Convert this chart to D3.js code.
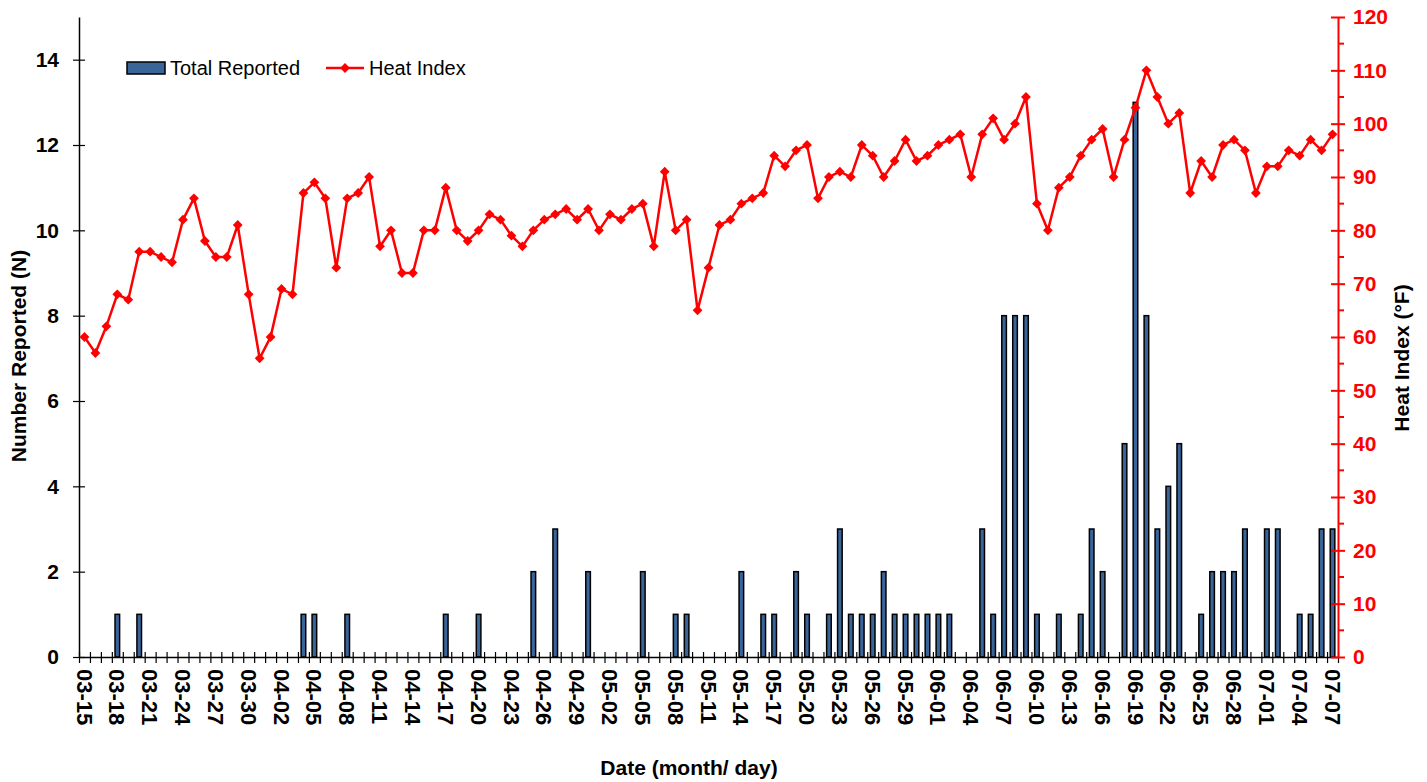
<html>
<head>
<meta charset="utf-8">
<title>Heat index vs reported cases</title>
<style>
  body { margin: 0; background: #fff; }
  text { font-family: "Liberation Sans", Arial, sans-serif; }
</style>
</head>
<body>
<script src="https://cdn.jsdelivr.net/npm/d3@7/dist/d3.min.js"></script>
<script>

// categories: every day from 03-15 to 07-07
var dates = d3.timeDay.range(new Date(2012, 2, 15), new Date(2012, 6, 8))
              .map(d3.timeFormat("%m-%d"));

// tick labels (every 3rd day)
var tickLabels = ["03-15","03-18","03-21","03-24","03-27","03-30","04-02","04-05","04-08","04-11",
                  "04-14","04-17","04-20","04-23","04-26","04-29","05-02","05-05","05-08","05-11",
                  "05-14","05-17","05-20","05-23","05-26","05-29","06-01","06-04","06-07","06-10",
                  "06-13","06-16","06-19","06-22","06-25","06-28","07-01","07-04","07-07"];

// Total Reported (N), one per day
var reported = [0,0,0,1,0,1,0,0,0,0,
                0,0,0,0,0,0,0,0,0,0,
                1,1,0,0,1,0,0,0,0,0,
                0,0,0,1,0,0,1,0,0,0,
                0,2,0,3,0,0,2,0,0,0,
                0,2,0,0,1,1,0,0,0,0,
                2,0,1,1,0,2,1,0,1,3,
                1,1,1,2,1,1,1,1,1,1,
                0,0,3,1,8,8,8,1,0,1,
                0,1,3,2,0,5,13,8,3,4,
                5,0,1,2,2,2,3,0,3,3,
                0,1,1,3,3];

// Heat Index (°F), one per day
var heatIndex = [60,57,62,68,67,76,76,75,74,82,
                 86,78,75,75,81,68,56,60,69,68,
                 87,89,86,73,86,87,90,77,80,72,
                 72,80,80,88,80,78,80,83,82,79,
                 77,80,82,83,84,82,84,80,83,82,
                 84,85,77,91,80,82,65,73,81,82,
                 85,86,87,94,92,95,96,86,90,91,
                 90,96,94,90,93,97,93,94,96,97,
                 98,90,98,101,97,100,105,85,80,88,
                 90,94,97,99,90,97,103,110,105,100,
                 102,87,93,90,96,97,95,87,92,92,
                 95,94,97,95,98];

var leftTicks  = [0,2,4,6,8,10,12,14];
var rightTicks = d3.range(0, 121, 10);

var width  = 1427;
var height = 782;
var plot = { left: 79, right: 1338, top: 17, bottom: 657 };
var font = "'Liberation Sans', Arial, sans-serif";

var svg = d3.select("body")
            .append("svg")
            .attr("width", width)
            .attr("height", height);

// scales
var x = d3.scaleBand()
          .domain(dates)
          .range([plot.left, plot.right])
          .padding(0);
var xEdge = d3.scaleLinear()        // for the boundary ticks between days
          .domain([0, dates.length])
          .range([plot.left, plot.right]);
var yLeft = d3.scaleLinear()
          .domain([0, 15])
          .range([plot.bottom, plot.top]);
var yRight = d3.scaleLinear()
          .domain([0, 120])
          .range([plot.bottom, plot.top]);

var barW = x.bandwidth() * 0.42;
var barColor = "#3A659A";

// bars
var barData = dates.map(function(d, i){ return { date: d, v: reported[i] }; })
                   .filter(function(d){ return d.v > 0; });

svg.append("g")
   .selectAll("rect")
   .data(barData)
   .enter()
   .append("rect")
   .attr("x", function(d){ return x(d.date) + (x.bandwidth() - barW) / 2; })
   .attr("y", function(d){ return yLeft(d.v); })
   .attr("width", barW)
   .attr("height", function(d){ return yLeft(0) - yLeft(d.v); })
   .attr("fill", barColor)
   .attr("stroke", "#000")
   .attr("stroke-width", 1.5);

// x axis: ticks between days
var gx = svg.append("g")
          .attr("transform", "translate(0," + plot.bottom + ")")
          .call(d3.axisBottom(xEdge)
                  .tickValues(d3.range(0, dates.length + 1))
                  .tickSize(6)
                  .tickSizeOuter(0)
                  .tickFormat(""));
gx.selectAll(".tick line").attr("y1", -5).attr("stroke", "#000").attr("stroke-width", 1.2);
gx.select(".domain").attr("stroke", "#000").attr("stroke-width", 1.5);

// x axis labels, rotated
var gxl = svg.append("g")
          .attr("transform", "translate(0," + plot.bottom + ")")
          .call(d3.axisBottom(x).tickValues(tickLabels).tickSize(0));
gxl.select(".domain").remove();
gxl.selectAll("text")
   .attr("transform", "rotate(90)")
   .attr("x", 12)
   .attr("y", 0)
   .attr("dy", "0.36em")
   .attr("text-anchor", "start")
   .attr("font-size", "22px")
   .attr("font-weight", "bold")
   .attr("font-family", font)
   .attr("fill", "#000");

// left axis
var gy = svg.append("g")
          .attr("transform", "translate(" + plot.left + ",0)")
          .call(d3.axisLeft(yLeft).tickValues(leftTicks).tickSize(6).tickSizeOuter(0).tickPadding(14));
gy.select(".domain").attr("stroke", "#000").attr("stroke-width", 1.5);
gy.selectAll(".tick line").attr("x1", -6).attr("x2", 6).attr("stroke", "#000").attr("stroke-width", 1.2);
gy.selectAll("text")
  .attr("font-size", "21px")
  .attr("font-weight", "bold")
  .attr("font-family", font)
  .attr("fill", "#000");

// right axis (red)
var gr = svg.append("g")
          .attr("transform", "translate(" + plot.right + ",0)")
          .call(d3.axisRight(yRight).tickValues(rightTicks).tickSize(7).tickSizeOuter(0).tickPadding(8));
gr.select(".domain").attr("stroke", "#FF0000").attr("stroke-width", 2);
gr.selectAll(".tick line").attr("x1", -7).attr("stroke", "#FF0000").attr("stroke-width", 2);
gr.selectAll("text")
  .attr("font-size", "21px")
  .attr("font-weight", "bold")
  .attr("font-family", font)
  .attr("fill", "#FF0000");
// minor ticks every 5
gr.selectAll(".minor")
  .data(d3.range(5, 120, 10))
  .enter()
  .append("line")
  .attr("class", "minor")
  .attr("x1", 0)
  .attr("x2", 6)
  .attr("y1", function(d){ return yRight(d); })
  .attr("y2", function(d){ return yRight(d); })
  .attr("stroke", "#FF0000")
  .attr("stroke-width", 2);

// heat index line
var cx = function(i){ return x(dates[i]) + x.bandwidth() / 2; };
var line = d3.line()
          .x(function(d, i){ return cx(i); })
          .y(function(d){ return yRight(d); });

svg.append("path")
   .datum(heatIndex)
   .attr("d", line)
   .attr("fill", "none")
   .attr("stroke", "#FF0000")
   .attr("stroke-width", 2.5);

var diamond = d3.symbol().type(d3.symbolSquare).size(48);

svg.append("g")
   .selectAll("path")
   .data(heatIndex)
   .enter()
   .append("path")
   .attr("d", diamond)
   .attr("transform", function(d, i){
       return "translate(" + cx(i) + "," + yRight(d) + ") rotate(45)";
   })
   .attr("fill", "#FF0000");

// axis titles
svg.append("text")
   .attr("transform", "translate(26,356) rotate(-90)")
   .attr("text-anchor", "middle")
   .attr("font-size", "21px")
   .attr("font-weight", "bold")
   .text("Number Reported (N)");

svg.append("text")
   .attr("transform", "translate(1409,358) rotate(-90)")
   .attr("text-anchor", "middle")
   .attr("font-size", "21px")
   .attr("font-weight", "bold")
   .text("Heat Index (°F)");

svg.append("text")
   .attr("x", 689)
   .attr("y", 775)
   .attr("text-anchor", "middle")
   .attr("font-size", "21px")
   .attr("font-weight", "bold")
   .text("Date (month/ day)");

// legend
var legend = svg.append("g");
legend.append("rect")
      .attr("x", 127).attr("y", 62)
      .attr("width", 38).attr("height", 12)
      .attr("fill", barColor)
      .attr("stroke", "#000")
      .attr("stroke-width", 1.5);
legend.append("text")
      .attr("x", 170).attr("y", 75)
      .attr("font-size", "20px")
      .text("Total Reported");
legend.append("line")
      .attr("x1", 326).attr("x2", 364)
      .attr("y1", 68).attr("y2", 68)
      .attr("stroke", "#FF0000")
      .attr("stroke-width", 2.5);
legend.append("path")
      .attr("d", diamond)
      .attr("transform", "translate(345,68) rotate(45)")
      .attr("fill", "#FF0000");
legend.append("text")
      .attr("x", 369).attr("y", 75)
      .attr("font-size", "20px")
      .text("Heat Index");

</script>
</body>
</html>
